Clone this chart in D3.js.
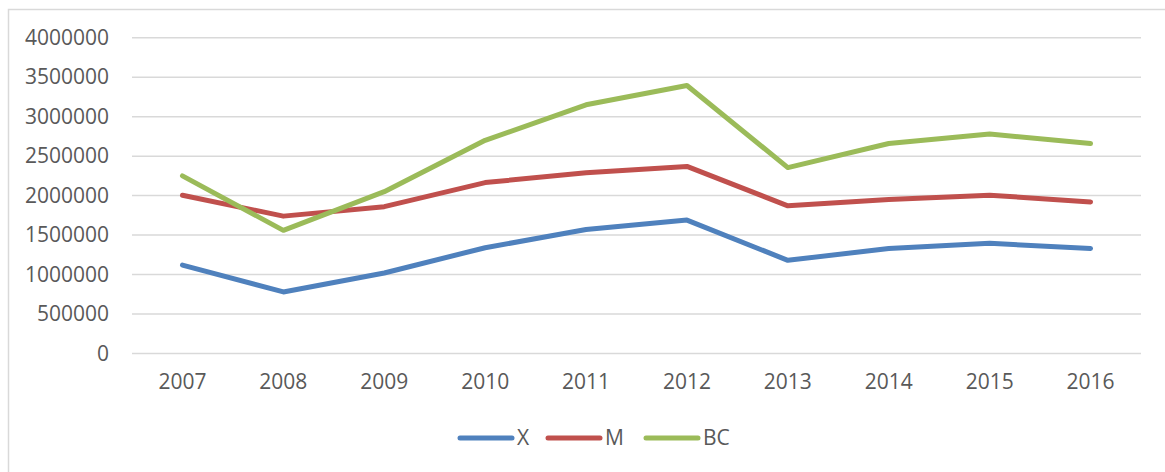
<!DOCTYPE html>
<html>
<head>
<meta charset="utf-8">
<script src="https://cdn.jsdelivr.net/npm/d3@7.9.0/dist/d3.min.js"></script>
<style>
  body { margin: 0; background: #fff; }
  svg text { font-family: 'Open Sans', sans-serif; fill: #595959; }
</style>
</head>
<body>
<svg id="chart" width="1165" height="472"></svg>
<script>
// ====== Data ======
const years = ['2007', '2008', '2009', '2010', '2011', '2012', '2013', '2014', '2015', '2016'];
const xValues = [1120000, 780000, 1020000, 1340000, 1570000, 1690000, 1180000, 1330000, 1395000, 1330000];
const mValues = [2005000, 1740000, 1860000, 2165000, 2290000, 2370000, 1870000, 1950000, 2005000, 1920000];
const bcValues = [2250000, 1560000, 2050000, 2700000, 3150000, 3395000, 2355000, 2660000, 2780000, 2660000];
const yTicks = [0, 500000, 1000000, 1500000, 2000000, 2500000, 3000000, 3500000, 4000000];

const series = [
  { name: 'X', values: xValues, color: '#4F81BD' },
  { name: 'M', values: mValues, color: '#C0504D' },
  { name: 'BC', values: bcValues, color: '#9BBB59' },
];

// ====== Setup ======
const svg = d3.select('#chart');

// chart frame (right/bottom edges fall outside the picture)
svg.append('rect')
  .attr('x', 8.5).attr('y', 9.5)
  .attr('width', 1200).attr('height', 500)
  .attr('fill', 'none')
  .attr('stroke', '#d9d9d9')
  .attr('stroke-width', 1.5);

const x = d3.scaleBand().domain(years).range([132, 1141]);
const y = d3.scaleLinear().domain([0, 4000000]).range([353.5, 37.7]);

// ====== Gridlines + y labels ======
const yAxis = d3.axisLeft(y).tickValues(yTicks).tickSize(0).tickPadding(0).tickFormat(d3.format('d'));
const yg = svg.append('g').attr('transform', 'translate(109,0)').call(yAxis);
yg.select('.domain').remove();
yg.selectAll('text').attr('font-size', 21).attr('fill', '#595959').style('font-family', "'Open Sans', sans-serif");

svg.append('g')
  .selectAll('line')
  .data(yTicks)
  .join('line')
  .attr('x1', 132).attr('x2', 1141)
  .attr('y1', (d) => y(d)).attr('y2', (d) => y(d))
  .attr('stroke', '#d9d9d9')
  .attr('stroke-width', 1.5);

// ====== X labels ======
const xAxis = d3.axisBottom(x).tickSize(0).tickPadding(0);
const xg = svg.append('g').attr('transform', 'translate(0,374)').call(xAxis);
xg.select('.domain').remove();
xg.selectAll('text').attr('font-size', 21).attr('fill', '#595959').style('font-family', "'Open Sans', sans-serif");

// ====== Lines ======
const line = d3.line()
  .x((d, i) => x(years[i]) + x.bandwidth() / 2)
  .y((d) => y(d));

series.forEach((s) => {
  svg.append('path')
    .attr('d', line(s.values))
    .attr('fill', 'none')
    .attr('stroke', s.color)
    .attr('stroke-width', 5)
    .attr('stroke-linejoin', 'round')
    .attr('stroke-linecap', 'round');
});

// ====== Legend ======
const legendX = [460, 548, 646];
const legend = svg.append('g');
series.forEach((s, i) => {
  const g = legend.append('g').attr('transform', `translate(${legendX[i]},438)`);
  g.append('line')
    .attr('x1', 0).attr('x2', 52)
    .attr('stroke', s.color)
    .attr('stroke-width', 5)
    .attr('stroke-linecap', 'round');
  g.append('text')
    .attr('x', 57).attr('dy', '0.35em')
    .attr('font-size', 21)
    .text(s.name);
});
</script>
</body>
</html>
